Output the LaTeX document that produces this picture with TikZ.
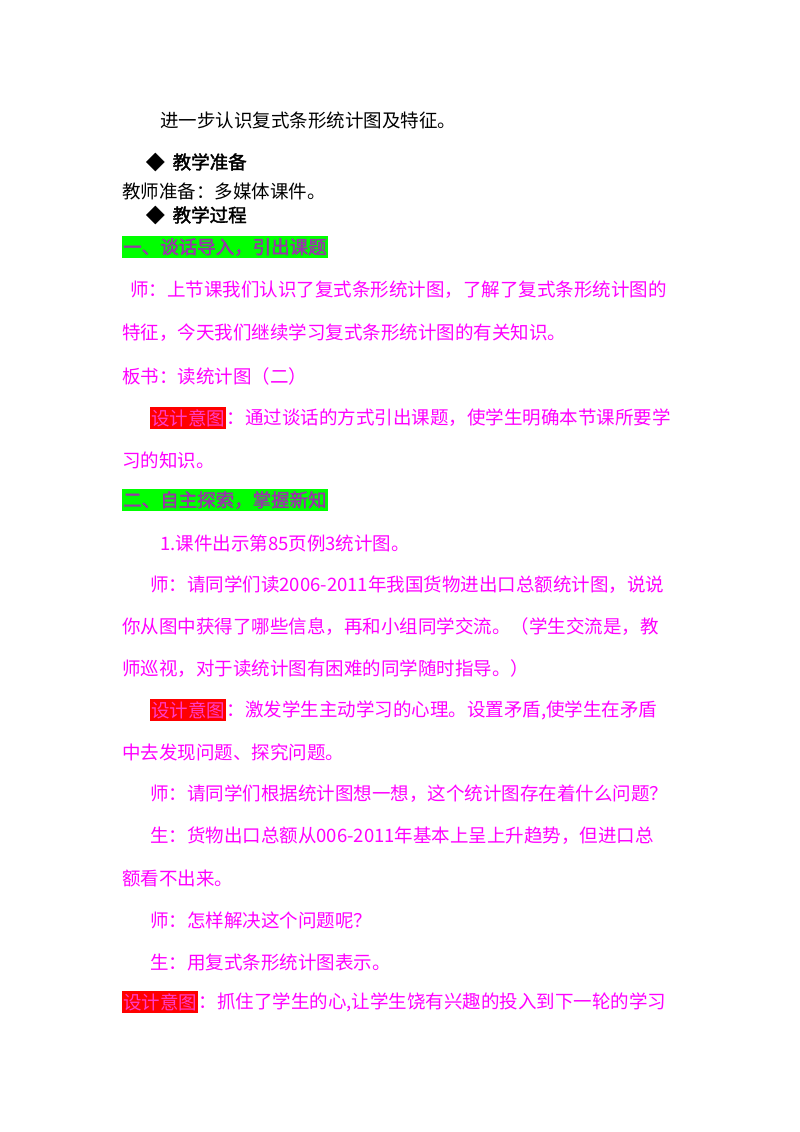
\documentclass[tikz,border=0pt]{standalone}
\usepackage{fontspec}
\setmainfont{Noto Sans CJK SC}
\newfontfamily\cjkb[FakeBold=2]{Noto Sans CJK SC}
\begin{document}
\begin{tikzpicture}[x=1pt,y=-1pt,
  txt/.style={anchor=west,inner sep=0pt,font=\fontsize{18.5}{20}\selectfont},
  mag/.style={txt,text={rgb,255:red,255;green,0;blue,255}},
  blk/.style={txt,text=black},
  head/.style={txt,fill={rgb,255:red,0;green,255;blue,0},text={rgb,255:red,153;green,51;blue,170},inner ysep=2pt,inner xsep=1pt,font=\fontsize{18.5}{20}\selectfont\cjkb},
  lab/.style={txt,fill=red,text={rgb,255:red,255;green,60;blue,200},inner ysep=2pt,inner xsep=1pt}]
\useasboundingbox (0,0) rectangle (800,1132);
\node[blk] (l1) at (160,120) {进一步认识复式条形统计图及特征。};
\node[blk,font=\fontsize{18.5}{20}\selectfont\cjkb] (h1) at (146,162) {◆\hspace{8pt}教学准备};
\node[blk] (l2) at (122,191) {教师准备：多媒体课件。};
\node[blk,font=\fontsize{18.5}{20}\selectfont\cjkb] (h2) at (146,215) {◆\hspace{8pt}教学过程};
\node[head] (g1) at (122,247) {一、谈话导入，引出课题};
\node[mag] (l3) at (130,290) {师：上节课我们认识了复式条形统计图，了解了复式条形统计图的};
\node[mag] (l4) at (122,333) {特征，今天我们继续学习复式条形统计图的有关知识。};
\node[mag] (l5) at (122,376) {板书：读统计图（二）};
\node[lab] (d1) at (150,418) {设计意图};
\node[mag] (l6) at (d1.east) {：通过谈话的方式引出课题，使学生明确本节课所要学};
\node[mag] (l7) at (122,460) {习的知识。};
\node[head] (g2) at (122,500) {二、自主探索，掌握新知};
\node[mag] (l8) at (160,543) {1.课件出示第85页例3统计图。};
\node[mag] (l9) at (150,585) {师：请同学们读2006-2011年我国货物进出口总额统计图，说说};
\node[mag] (l10) at (122,627) {你从图中获得了哪些信息，再和小组同学交流。（学生交流是，教};
\node[mag] (l11) at (122,669) {师巡视，对于读统计图有困难的同学随时指导。）};
\node[lab] (d2) at (150,710) {设计意图};
\node[mag] (l12) at (d2.east) {：激发学生主动学习的心理。设置矛盾,使学生在矛盾};
\node[mag] (l13) at (122,752) {中去发现问题、探究问题。};
\node[mag] (l14) at (150,794) {师：请同学们根据统计图想一想，这个统计图存在着什么问题？};
\node[mag] (l15) at (150,836) {生：货物出口总额从006-2011年基本上呈上升趋势，但进口总};
\node[mag] (l16) at (122,878) {额看不出来。};
\node[mag] (l17) at (150,920) {师：怎样解决这个问题呢？};
\node[mag] (l18) at (150,962) {生：用复式条形统计图表示。};
\node[lab] (d3) at (122,1002) {设计意图};
\node[mag] (l19) at (d3.east) {：抓住了学生的心,让学生饶有兴趣的投入到下一轮的学习};
\end{tikzpicture}
\end{document}
